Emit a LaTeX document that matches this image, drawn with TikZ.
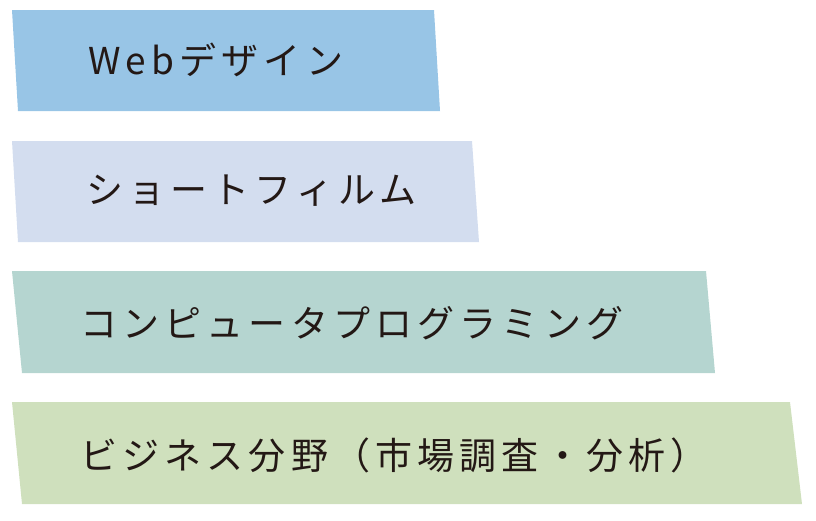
\documentclass[tikz,border=0pt]{standalone}
\usepackage{fontspec}
\newfontfamily\jpfont[LetterSpace=14]{Noto Sans CJK JP}
\definecolor{webblue}{HTML}{98C5E6}
\definecolor{filmblue}{HTML}{D3DDEF}
\definecolor{progteal}{HTML}{B5D5D0}
\definecolor{bizgreen}{HTML}{CFE0BD}
\definecolor{inkdark}{HTML}{231815}
\begin{document}
\begin{tikzpicture}[x=1pt,y=-1pt]
    \tikzset{blabel/.style = {
        anchor=west,
        inner sep=0pt,
        text=inkdark,
        font=\jpfont\fontsize{37}{40}\selectfont } }
    \useasboundingbox (0,0) rectangle (816,520);
    % bars
    \fill[webblue]  (12,10)  -- (434,10)  -- (440,111) -- (18,111) -- cycle;
    \fill[filmblue] (12,141) -- (472,141) -- (479,242) -- (18,242) -- cycle;
    \fill[progteal] (12,271) -- (706,271) -- (715,373) -- (22,373) -- cycle;
    \fill[bizgreen] (12,402) -- (790,402) -- (802,504) -- (22,504) -- cycle;
    % labels
    \node[blabel] (web)  at (88,60)  {Webデザイン};
    \node[blabel] (film) at (86,191) {ショートフィルム};
    \node[blabel] (prog) at (80,323) {コンピュータプログラミング};
    \node[blabel] (biz)  at (80,455) {ビジネス分野（市場調査・分析）};
\end{tikzpicture}
\end{document}
